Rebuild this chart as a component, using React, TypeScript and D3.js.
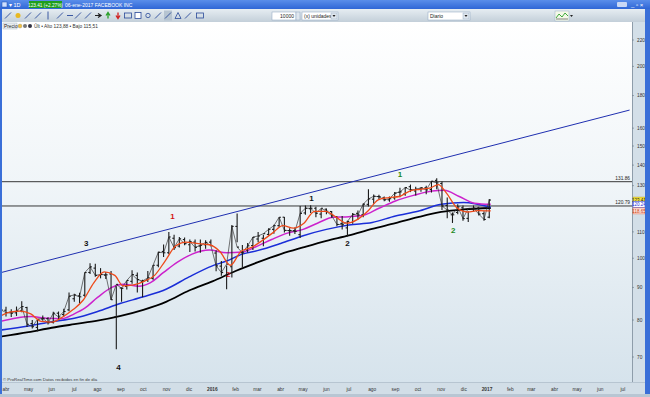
import React from 'react';
import * as d3 from 'd3';

// chart frame
const W = 650;
const H = 397;
const plot = { left: 2, right: 632, top: 22, bottom: 382 };

// weekly price bars (week start, open, high, low, close)
const weeks = [
  '2015-03-23','2015-03-30','2015-04-06','2015-04-13','2015-04-20','2015-04-27','2015-05-04','2015-05-11','2015-05-18','2015-05-25',
  '2015-06-01','2015-06-08','2015-06-15','2015-06-22','2015-06-29','2015-07-06','2015-07-13','2015-07-20','2015-07-27','2015-08-03',
  '2015-08-10','2015-08-17','2015-08-24','2015-08-31','2015-09-07','2015-09-14','2015-09-21','2015-09-28','2015-10-05','2015-10-12',
  '2015-10-19','2015-10-26','2015-11-02','2015-11-09','2015-11-16','2015-11-23','2015-11-30','2015-12-07','2015-12-14','2015-12-21',
  '2015-12-28',
  '2016-01-04','2016-01-11','2016-01-18','2016-01-25','2016-02-01','2016-02-08','2016-02-15','2016-02-22','2016-02-29','2016-03-07',
  '2016-03-14','2016-03-21','2016-03-28','2016-04-04','2016-04-11','2016-04-18','2016-04-25','2016-05-02','2016-05-09','2016-05-16',
  '2016-05-23','2016-05-30','2016-06-06','2016-06-13','2016-06-20','2016-06-27','2016-07-04','2016-07-11','2016-07-18','2016-07-25',
  '2016-08-01','2016-08-08','2016-08-15','2016-08-22','2016-08-29','2016-09-05','2016-09-12','2016-09-19','2016-09-26','2016-10-03',
  '2016-10-10','2016-10-17','2016-10-24','2016-10-31','2016-11-07','2016-11-14','2016-11-21','2016-11-28','2016-12-05','2016-12-12',
  '2016-12-19','2016-12-26',
  '2017-01-02',
];
const open = [
  85.0,82.9,82.3,82.1,82.7,83.7,79.0,77.9,80.3,80.4,79.3,82.0,81.6,83.0,86.4,87.3,87.5,95.0,96.5,94.0,
  94.1,94.5,81.0,89.8,90.3,92.0,94.0,92.0,92.5,93.0,97.5,102.5,102.0,107.5,104.5,107.0,105.0,106.0,104.5,105.0,106.0,
  101.9,97.2,94.0,97.0,112.2,102.0,103.0,104.7,107.2,107.5,109.0,111.0,112.5,116.0,110.5,110.5,108.9,117.8,119.6,119.8,
  117.3,119.4,118.4,116.3,113.4,111.6,113.8,117.6,117.0,121.5,123.8,125.0,124.4,123.5,124.4,126.9,126.2,129.5,127.5,128.4,
  129.0,128.2,132.5,131.0,121.0,117.0,118.0,120.0,115.5,119.5,119.9,117.5,
  116.0,
];
const high = [
  86.1,83.9,83.2,84.0,85.6,83.9,80.0,80.2,81.3,80.8,82.4,82.5,83.3,88.4,88.0,88.3,95.0,98.2,98.0,96.5,
  95.2,95.5,90.4,90.0,92.2,95.8,95.0,92.5,95.5,97.6,102.4,105.1,110.0,108.9,108.0,107.8,107.0,107.0,107.0,106.7,107.0,
  102.9,99.0,97.4,112.8,117.6,104.9,105.7,108.0,110.0,108.9,111.5,112.9,116.0,116.1,111.5,111.8,120.8,121.0,121.1,120.5,
  119.6,119.7,118.6,116.4,116.5,114.5,117.8,118.8,121.9,128.3,125.9,125.8,125.0,125.0,127.0,129.0,129.2,130.5,129.5,129.2,
  130.0,132.2,133.5,131.9,124.5,118.0,121.5,121.0,118.5,121.0,120.5,118.5,
  123.9,
];
const low = [
  82.6,81.0,80.9,81.2,82.3,78.0,77.6,76.8,79.8,78.7,79.0,80.3,81.0,82.6,85.5,85.0,87.0,94.5,93.5,93.0,
  92.8,86.0,72.0,85.5,89.3,91.2,88.4,86.9,91.8,92.5,96.8,100.5,101.5,103.0,104.0,104.8,102.3,102.5,102.0,103.5,104.4,
  95.4,93.9,89.4,93.3,106.0,96.8,102.1,103.0,106.0,104.4,108.5,109.3,112.0,109.8,108.5,109.2,107.6,117.0,117.8,116.0,
  115.5,117.2,115.8,112.3,110.9,108.2,113.3,114.9,116.0,120.6,121.8,123.9,122.9,122.7,123.5,124.7,125.3,127.0,125.5,127.2,
  126.0,126.8,128.3,119.0,115.5,113.6,117.2,114.5,114.0,118.5,116.7,114.5,
  115.5,
];
const close = [
  83.0,82.2,82.0,82.7,84.0,78.8,78.1,80.2,80.5,79.2,82.0,80.9,82.5,87.2,87.6,87.0,94.97,96.95,94.0,94.3,
  94.2,86.1,91.0,89.7,92.3,94.3,92.6,92.1,93.2,97.5,102.2,102.0,108.0,103.9,107.3,105.4,106.2,104.0,104.8,105.9,104.7,
  97.3,94.97,97.9,112.2,104.1,102.0,104.6,107.9,108.4,109.3,111.0,112.5,116.0,110.6,110.5,110.2,117.6,119.8,119.8,117.6,
  119.8,118.5,116.6,113.0,112.9,114.2,117.2,116.9,121.6,123.9,125.1,124.9,123.5,124.0,126.5,127.1,129.1,128.0,128.3,129.0,
  128.0,132.1,131.3,120.8,119.0,117.0,120.4,115.4,119.7,119.9,117.3,115.05,
  123.41,
];

// moving averages
const maFastDates = ['2015-03-23','2015-04-06','2015-04-20','2015-05-04','2015-05-18','2015-06-01','2015-06-15','2015-06-29','2015-07-13','2015-07-27',
  '2015-08-10','2015-08-24','2015-09-04','2015-09-18','2015-10-02','2015-10-16','2015-10-30','2015-11-13','2015-11-27','2015-12-11','2015-12-28',
  '2016-01-11','2016-01-25','2016-02-08','2016-02-22','2016-03-07','2016-03-21','2016-04-04','2016-04-18','2016-05-02','2016-05-16','2016-05-31',
  '2016-06-14','2016-06-28','2016-07-12','2016-07-26','2016-08-09','2016-08-23','2016-09-06','2016-09-20','2016-10-04','2016-10-18','2016-10-28',
  '2016-11-08','2016-11-22','2016-12-06','2016-12-20','2017-01-06'];
const maFast = [81.0,82.3,82.6,81.8,79.6,79.4,80.8,83.0,86.0,91.5,
  95.2,94.0,90.5,90.8,92.0,94.0,99.0,104.5,106.0,105.5,105.0,
  102.5,97.5,102.5,104.0,106.5,109.5,112.5,111.5,113.5,118.5,118.5,
  116.0,113.5,115.0,118.5,123.5,124.5,125.0,127.5,128.3,129.0,130.5,
  126.5,120.0,118.2,118.8,118.65];

const maMidDates = ['2015-03-23','2015-04-15','2015-05-05','2015-05-25','2015-06-15','2015-07-01','2015-07-15','2015-08-01','2015-08-20','2015-09-05',
  '2015-09-25','2015-10-10','2015-10-28','2015-11-15','2015-12-05','2015-12-28','2016-01-20','2016-02-10','2016-03-01','2016-03-20',
  '2016-04-10','2016-05-01','2016-05-20','2016-06-10','2016-07-01','2016-07-20','2016-08-10','2016-09-01','2016-09-25','2016-10-20',
  '2016-11-05','2016-11-25','2016-12-15','2017-01-06'];
const maMid = [79.5,80.6,81.0,80.5,80.4,81.8,83.5,86.8,90.0,91.0,
  90.4,91.5,95.0,98.5,101.5,103.0,102.0,102.3,104.5,107.0,
  109.5,111.0,113.5,116.0,116.2,116.8,119.8,123.0,125.5,127.5,
  127.8,125.0,122.0,121.5];

const maSlowDates = ['2015-03-23','2015-05-01','2015-06-01','2015-07-01','2015-08-01','2015-09-01','2015-10-01','2015-11-01','2015-12-01','2016-01-01',
  '2016-01-20','2016-02-10','2016-03-01','2016-04-01','2016-05-01','2016-06-01','2016-07-01','2016-08-01','2016-09-01','2016-10-01',
  '2016-11-01','2016-12-01','2017-01-06'];
const maSlow = [77.1,78.3,79.5,80.5,82.5,85.0,87.0,89.5,93.5,97.3,
  99.0,101.5,102.8,105.5,108.5,111.0,112.8,113.8,116.5,118.5,
  121.5,122.3,120.24];

const maLongDates = ['2015-03-23','2015-05-01','2015-06-01','2015-07-01','2015-08-01','2015-09-01','2015-10-01','2015-11-01','2015-12-01','2016-01-01',
  '2016-02-01','2016-03-01','2016-04-01','2016-05-01','2016-06-01','2016-07-01','2016-08-01','2016-09-01','2016-10-01','2016-11-01',
  '2016-12-01','2017-01-06'];
const maLong = [75.3,76.6,77.8,78.8,79.8,81.2,83.0,85.5,89.0,92.0,
  95.5,98.5,101.5,104.0,106.5,108.6,111.2,113.5,116.0,118.2,
  119.3,119.9];

// drawn objects
const trendDates = ['2015-03-23', '2017-07-10'];
const trendValues = [94.8, 170.8];
const levels = [131.86, 120.79];
const yTicks = [70, 80, 90, 100, 110, 130, 140, 150, 160, 180, 200, 220];
const monthNames = ['ene','feb','mar','abr','may','jun','jul','ago','sep','oct','nov','dic'];

const noteText = ['3', '1', '1', '1', '2', '2', '2', '4'];
const noteDates = ['2015-07-17','2015-11-09','2016-05-12','2016-09-07','2016-01-22','2016-06-29','2016-11-17','2015-08-29'];
const notePrices = [105.2, 116.1, 123.8, 135.1, 94.1, 105.2, 110.3, 67.2];
const noteColors = ['#111', '#d41010', '#111', '#1c8a1c', '#d41010', '#111', '#1c8a1c', '#111'];

const parse = d3.timeParse('%Y-%m-%d');
const font = 'Liberation Sans, Arial, sans-serif';

export default function App() {
  const x = d3.scaleTime()
    .domain([new Date(2015, 3, 1), new Date(2017, 0, 1)])
    .range([6, 487]);
  const y = d3.scaleLog().domain([70, 220]).range([357, 40]);

  const line = (dates: string[], vals: number[]) =>
    d3.line<number>()
      .x((_, i) => x(parse(dates[i])!))
      .y((d) => y(d))
      .curve(d3.curveMonotoneX)(vals) || '';

  const months = d3.timeMonth.range(new Date(2015, 3, 1), new Date(2017, 6, 2));

  const bars = weeks.map((w, i) => {
    const cx = x(d3.timeDay.offset(parse(w)!, 2));
    return { cx, o: y(open[i]), h: y(high[i]), l: y(low[i]), c: y(close[i]) };
  });
  // thin close-to-close trace to give the dense look of daily bars
  const closePath = d3.line<number>()
    .x((_, i) => bars[i].cx)
    .y((d) => y(d))(close) || '';

  const lastClose = close[close.length - 1];
  const lastSlow = maSlow[maSlow.length - 1];
  const lastFast = maFast[maFast.length - 1];

  const icons = [8, 18, 28, 38, 48, 60, 70, 78, 88, 98, 108, 118, 128, 138, 148, 158, 168, 178, 188, 200];

  return (
    <div style={{ position: 'absolute', left: 0, top: 0 }}>
      <svg width={W} height={H} style={{ display: 'block', fontFamily: font }}>
        <defs>
          <linearGradient id="bg" x1="0" y1="0" x2="0" y2="1">
            <stop offset="0" stopColor="#ffffff" />
            <stop offset="0.45" stopColor="#f0f5f8" />
            <stop offset="1" stopColor="#d6e3ec" />
          </linearGradient>
          <linearGradient id="title" x1="0" y1="0" x2="0" y2="1">
            <stop offset="0" stopColor="#5a8eea" />
            <stop offset="1" stopColor="#2f66d6" />
          </linearGradient>
          <linearGradient id="tool" x1="0" y1="0" x2="0" y2="1">
            <stop offset="0" stopColor="#e6edf2" />
            <stop offset="1" stopColor="#c3cfd9" />
          </linearGradient>
          <clipPath id="plotClip">
            <rect x={plot.left} y={plot.top} width={plot.right - plot.left} height={plot.bottom - plot.top} />
          </clipPath>
        </defs>

        {/* window frame */}
        <rect x={0} y={0} width={W} height={H} fill="#3a6fd8" />
        <rect x={0} y={0} width={W} height={9} fill="url(#title)" />
        <rect x={2} y={2} width={5} height={5} fill="#cfe0ff" stroke="#1d4fb0" strokeWidth={0.5} />
        <text x={9} y={7} fontSize={5.5} fill="#fff">▾ 1D</text>
        <rect x={29} y={1} width={33} height={7} fill="#1e9e1e" />
        <text x={45.5} y={6.6} fontSize={4.7} fill="#fff" textAnchor="middle">123.41 (+2.27%)</text>
        <text x={65} y={7} fontSize={5} fill="#fff">06-ene-2017 FACEBOOK INC</text>
        <rect x={617} y={2} width={10} height={5} rx={1} fill="#c9d8f5" />
        <text x={631} y={7} fontSize={6} fill="#fff">_ ▫ ×</text>

        {/* toolbar */}
        <rect x={2} y={9} width={643} height={13} fill="url(#tool)" />
        {icons.map((ix, i) => (
          <g key={i} transform={`translate(${ix},15.5)`}>
            {i === 16 && <rect x={-4} y={-5} width={8} height={10} fill="#b6c4d1" />}
            {i === 9 ? <path d="M-3,0 H2 M0,-2 L3,0 L0,2" stroke="#222" strokeWidth={1.2} fill="none" />
              : i === 10 ? <path d="M0,3 V-2 M-2,0 L0,-3 L2,0" stroke="#2aa02a" strokeWidth={1.3} fill="none" />
              : i === 11 ? <path d="M0,-3 V2 M-2,0 L0,3 L2,0" stroke="#d02020" strokeWidth={1.3} fill="none" />
              : i === 1 ? <circle r={2.5} fill="#e8b820" />
              : i === 17 ? <path d="M-3,3 L0,-3 L3,3 Z" stroke="#2a4a9a" fill="none" strokeWidth={0.8} />
              : i === 4 ? <path d="M0,-4 V4" stroke="#2a4a9a" strokeWidth={0.9} />
              : i === 6 ? <path d="M-3,0 H3" stroke="#2a4a9a" strokeWidth={0.9} />
              : i === 12 || i === 19 ? <rect x={-3.5} y={-2.5} width={7} height={5} fill="none" stroke="#2a4a9a" strokeWidth={0.8} />
              : i === 13 ? <rect x={-3} y={-3} width={6} height={6} fill="#fff" stroke="#2a4a9a" strokeWidth={0.8} />
              : i === 14 ? <circle r={2.2} fill="none" stroke="#2a4a9a" strokeWidth={0.8} />
              : <path d="M-3,3 L3,-3" stroke="#2a4a9a" strokeWidth={0.9} />}
          </g>
        ))}
        <rect x={272} y={12} width={24} height={8} fill="#fff" stroke="#8ba4bf" strokeWidth={0.5} />
        <text x={294} y={18} fontSize={5} fill="#222" textAnchor="end">10000</text>
        <rect x={296} y={12} width={4} height={8} fill="#dfe6ee" stroke="#8ba4bf" strokeWidth={0.5} />
        <rect x={302} y={12} width={36} height={8} fill="#fff" stroke="#8ba4bf" strokeWidth={0.5} />
        <text x={304} y={18} fontSize={5} fill="#222">(x) unidades</text>
        <rect x={331} y={13} width={6} height={6} fill="#dfe6ee" stroke="#8ba4bf" strokeWidth={0.4} />
        <path d="M332.5,15 L335.5,15 L334,17 Z" fill="#222" />
        <rect x={428} y={12} width={42} height={8} fill="#fff" stroke="#8ba4bf" strokeWidth={0.5} />
        <text x={430} y={18} fontSize={5} fill="#222">Diario</text>
        <rect x={463} y={13} width={6} height={6} fill="#dfe6ee" stroke="#8ba4bf" strokeWidth={0.4} />
        <path d="M464.5,15 L467.5,15 L466,17 Z" fill="#222" />
        <rect x={555} y={11} width={14} height={10} fill="#f4f8e8" stroke="#9ab0c6" strokeWidth={0.5} />
        <path d="M556,18 L559,14 L562,17 L565,13 L568,16" stroke="#2aa02a" strokeWidth={0.9} fill="none" />
        <path d="M556,19 H568" stroke="#333" strokeWidth={0.6} />
        <path d="M570,15 L573,15 L571.5,17 Z" fill="#222" />

        {/* chart background */}
        <rect x={plot.left} y={plot.top} width={plot.right - plot.left} height={plot.bottom - plot.top} fill="url(#bg)" />
        <rect x={plot.right} y={plot.top} width={13} height={372} fill="#d3dfe8" />
        <line x1={plot.right + 0.5} x2={plot.right + 0.5} y1={plot.top} y2={plot.bottom} stroke="#8e9daa" />
        <rect x={plot.left} y={plot.bottom} width={643} height={12} fill="#d2dee7" />
        <line x1={plot.left} x2={645} y1={plot.bottom + 0.5} y2={plot.bottom + 0.5} stroke="#b7c5d1" />

        {/* legend line */}
        <rect x={3} y={23} width={14} height={6} fill="#e9eef3" stroke="#9aabba" strokeWidth={0.4} />
        <text x={4} y={28} fontSize={4.8} fill="#222">Precio</text>
        <circle cx={20} cy={26} r={2} fill="#f0c040" stroke="#777" strokeWidth={0.3} />
        <circle cx={25} cy={26} r={2} fill="#777" />
        <circle cx={30} cy={26} r={2} fill="#334" />
        <text x={34} y={28} fontSize={4.8} fill="#333">Últ • Alto 123,88 • Bajo 115,51</text>

        {/* y axis */}
        {yTicks.map((t) => (
          <g key={t}>
            <line x1={plot.right} x2={plot.right + 2} y1={y(t)} y2={y(t)} stroke="#6a7a88" strokeWidth={0.6} />
            <text x={plot.right + 5} y={y(t) + 1.7} fontSize={4.8} fill="#333">{t}</text>
          </g>
        ))}

        {/* x axis */}
        {months.map((m) => {
          const mo = m.getMonth();
          return (
            <text key={m.toISOString()} x={x(m)} y={391} fontSize={4.8} textAnchor="middle"
              fill="#333" fontWeight={mo === 0 ? 'bold' : 'normal'}>
              {mo === 0 ? m.getFullYear() : monthNames[mo]}
            </text>
          );
        })}
        <text x={3} y={381} fontSize={4.3} fill="#333">© ProRealTime.com  Datos recibidos en fin de día</text>

        <g clipPath="url(#plotClip)">
          {/* levels & trend */}
          {levels.map((lv) => (
            <line key={lv} x1={plot.left} x2={plot.right} y1={y(lv)} y2={y(lv)} stroke="#222" strokeWidth={0.9} />
          ))}
          <line x1={x(parse(trendDates[0])!)} y1={y(trendValues[0])}
            x2={x(parse(trendDates[1])!)} y2={y(trendValues[1])} stroke="#1f2fb0" strokeWidth={1} />

          {/* moving averages */}
          <path d={line(maLongDates, maLong)} fill="none" stroke="#000" strokeWidth={1.8} />
          <path d={line(maSlowDates, maSlow)} fill="none" stroke="#1a2ed8" strokeWidth={1.5} />
          <path d={line(maMidDates, maMid)} fill="none" stroke="#cc22cc" strokeWidth={1.5} />

          {/* price bars */}
          <path d={closePath} fill="none" stroke="#3a3a3a" strokeWidth={0.7} />
          {bars.map((b, i) => (
            <g key={i} stroke="#1a1a1a" strokeWidth={1.1}>
              <line x1={b.cx} x2={b.cx} y1={b.h} y2={b.l} />
              <line x1={b.cx - 1.8} x2={b.cx} y1={b.o} y2={b.o} />
              <line x1={b.cx} x2={b.cx + 1.8} y1={b.c} y2={b.c} />
            </g>
          ))}

          <path d={line(maFastDates, maFast)} fill="none" stroke="#ee4a1a" strokeWidth={1.3} />

          {noteText.map((t, i) => (
            <text key={i} x={x(parse(noteDates[i])!)} y={y(notePrices[i])} fontSize={8} fontWeight="bold"
              fill={noteColors[i]} textAnchor="middle" dominantBaseline="middle">{t}</text>
          ))}

          {levels.map((lv) => (
            <text key={'t' + lv} x={plot.right - 2} y={y(lv) - 1.5} fontSize={4.8} fill="#222" textAnchor="end">
              {lv.toFixed(2)}
            </text>
          ))}
        </g>

        {/* last value tags */}
        <rect x={plot.right + 1} y={y(lastClose) - 3} width={12} height={6} fill="#f4e23c" stroke="#b09a10" strokeWidth={0.4} />
        <text x={plot.right + 7} y={y(lastClose) + 1.7} fontSize={4.5} textAnchor="middle" fill="#222">{lastClose.toFixed(2)}</text>
        <rect x={plot.right + 1} y={y(lastSlow) - 6} width={12} height={6} fill="#fff" stroke="#1a2ed8" strokeWidth={0.5} />
        <text x={plot.right + 7} y={y(lastSlow) - 1.3} fontSize={4.5} textAnchor="middle" fill="#1a2ed8">{lastSlow.toFixed(2)}</text>
        <rect x={plot.right + 1} y={y(lastFast) - 3} width={12} height={6} fill="#fbe3dc" stroke="#ee4a1a" strokeWidth={0.4} />
        <text x={plot.right + 7} y={y(lastFast) + 1.7} fontSize={4.5} textAnchor="middle" fill="#cc3a10">{lastFast.toFixed(2)}</text>

        {/* lower frame */}
        <rect x={0} y={394} width={W} height={3} fill="#b8c6d3" />
        <rect x={645} y={22} width={5} height={372} fill="#3a6fd8" />
      </svg>
    </div>
  );
}
